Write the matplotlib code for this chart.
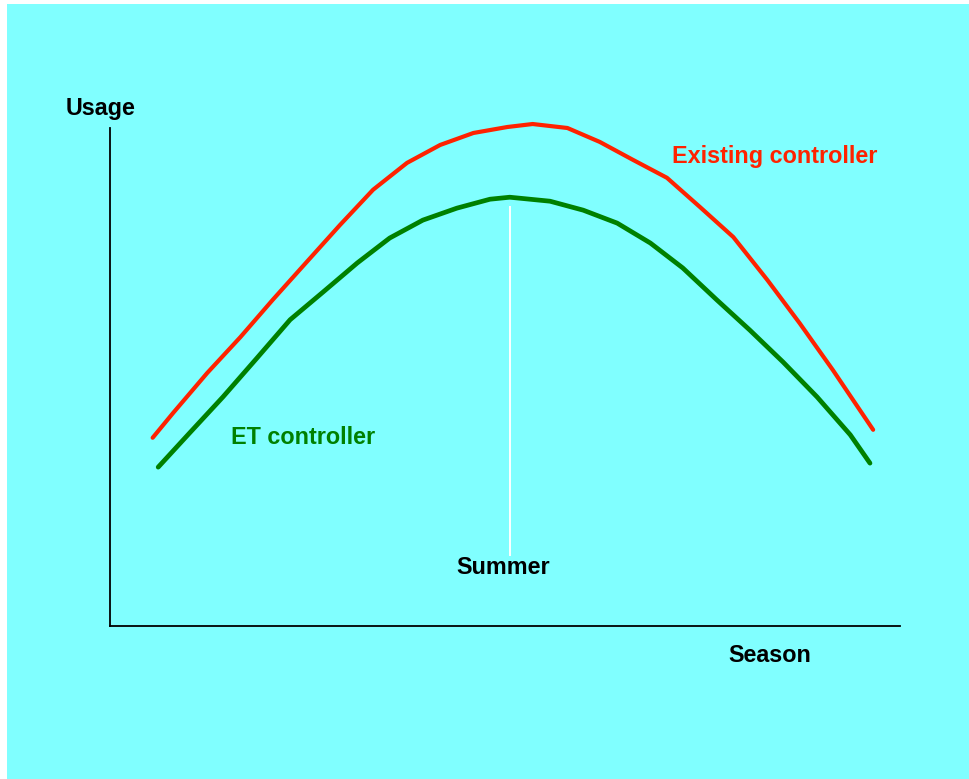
import matplotlib
matplotlib.use("Agg")
import matplotlib.pyplot as plt
from matplotlib.patches import Rectangle

plt.rcParams['font.family'] = ['Liberation Sans', 'DejaVu Sans']

# season position (0-100) and usage (0-100)
season_existing = [5.4, 8.0, 12.3, 16.5, 20.6, 24.9, 29.1, 33.3, 37.6, 41.8, 46.0, 50.3,
                   53.5, 57.9, 62.0, 66.2, 70.5, 74.7, 78.9, 83.2, 87.3, 91.5, 96.6]
usage_existing = [37.8, 42.8, 50.8, 58.0, 65.5, 73.1, 80.5, 87.6, 93.0, 96.6, 99.0, 100.2,
                  100.8, 100.0, 97.2, 93.6, 90.0, 84.1, 78.1, 69.5, 60.8, 51.4, 39.4]

season_et = [6.1, 10.1, 14.3, 18.6, 22.8, 27.0, 31.3, 35.4, 39.6, 43.9, 48.1, 50.6,
             55.7, 59.9, 64.2, 68.4, 72.5, 76.8, 81.0, 85.2, 89.5, 93.7, 96.2]
usage_et = [31.9, 38.8, 46.0, 53.8, 61.5, 67.1, 72.9, 77.9, 81.5, 83.9, 85.7, 86.1,
            85.3, 83.5, 80.9, 76.9, 71.9, 65.5, 59.4, 53.0, 46.0, 38.4, 32.7]

summer_x = 50.6
summer_y = [14.3, 84.1]

W, H = 969, 779
fig = plt.figure(figsize=(W / 100, H / 100), dpi=100)
fig.patch.set_facecolor('white')
# cyan panel
fig.patches.append(Rectangle((7 / W, 0), 1, (H - 4) / H, transform=fig.transFigure,
                             facecolor='#80ffff', edgecolor='none', zorder=-10))

# axes box in pixels: left 110, right 900, top 128, bottom 626
ax = fig.add_axes([110 / W, 1 - 626 / H, 790 / W, 498 / H])
ax.set_facecolor('none')
ax.set_zorder(5)
ax.set_xlim(0, 100)
ax.set_ylim(0, 100)
for s in ['top', 'right']:
    ax.spines[s].set_visible(False)
for s in ['left', 'bottom']:
    ax.spines[s].set_color('black')
    ax.spines[s].set_linewidth(1.3)
ax.set_xticks([])
ax.set_yticks([])

ax.plot(season_existing, usage_existing, color='#ff2200', lw=3.0, clip_on=False, solid_capstyle='round')
ax.plot(season_et, usage_et, color='#008000', lw=3.4, clip_on=False, solid_capstyle='round')
ax.plot([summer_x, summer_x], summer_y, color='white', lw=1.4)

fs = 16.8
fig.text(101 / W, 1 - 109 / H, 'Usage', ha='center', va='center', fontsize=fs, fontweight='bold', color='black')
fig.text(770 / W, 1 - 655 / H, 'Season', ha='center', va='center', fontsize=fs, fontweight='bold', color='black')
fig.text(503 / W, 1 - 568 / H, 'Summer', ha='center', va='center', fontsize=fs, fontweight='bold', color='black')
fig.text(775 / W, 1 - 156 / H, 'Existing controller', ha='center', va='center', fontsize=fs, fontweight='bold', color='#ff2200')
fig.text(303 / W, 1 - 438 / H, 'ET controller', ha='center', va='center', fontsize=fs, fontweight='bold', color='#008000')

fig.savefig('out.png', dpi=100)
